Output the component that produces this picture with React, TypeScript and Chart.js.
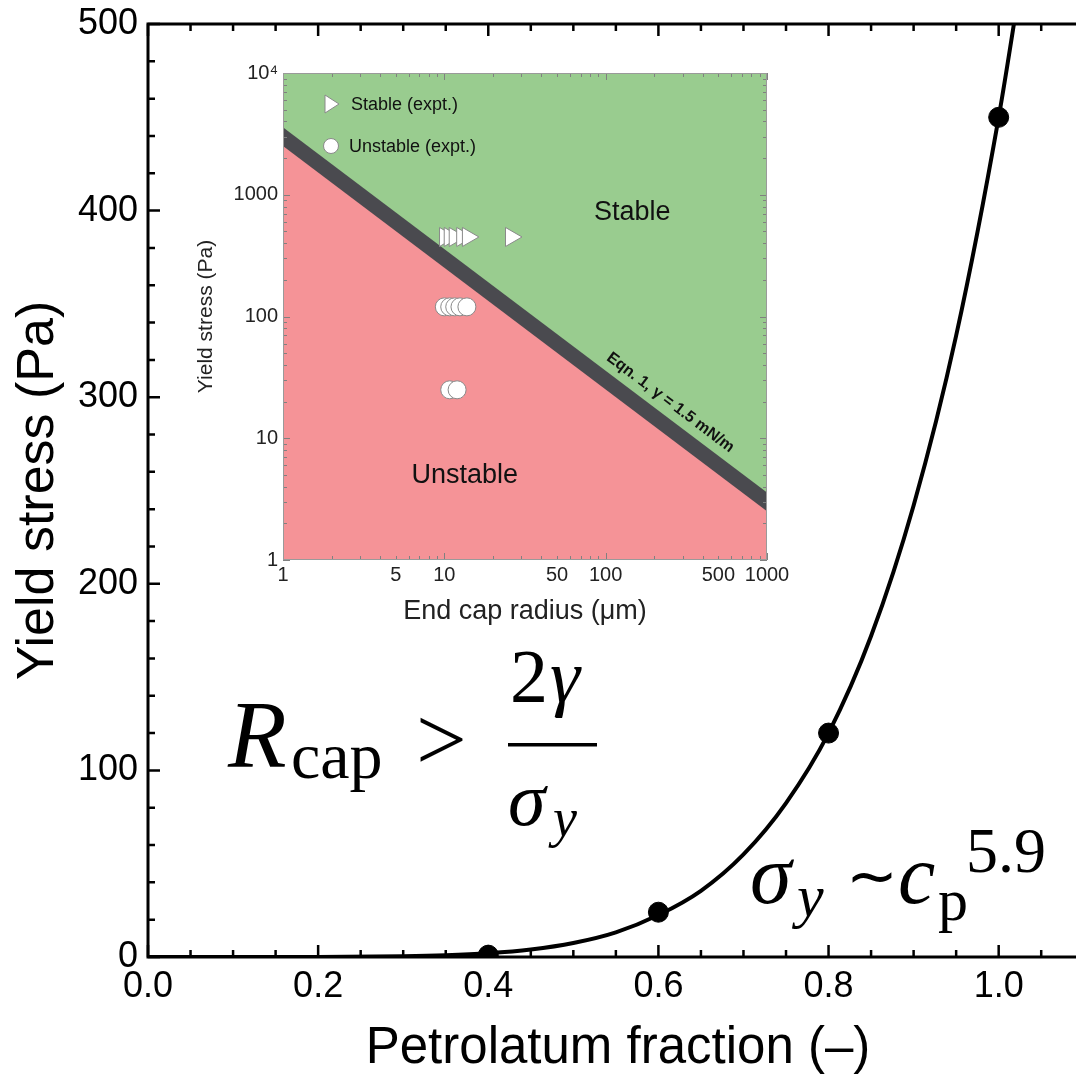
import React, { useEffect, useRef } from 'react';
import { Chart, registerables } from 'chart.js';

Chart.register(...registerables);

const SANS = '"Liberation Sans", Arial, Helvetica, sans-serif';
const SERIF = '"Liberation Serif", "Times New Roman", serif';

// ---------- main chart data ----------
const fractionMeasured = [0.4, 0.6, 0.8, 1.0];
const stressMeasured = [1, 24, 120, 450];
const fitFraction = [0, 0.1, 0.2, 0.3, 0.35, 0.4, 0.45, 0.5, 0.55, 0.6, 0.65, 0.7, 0.75, 0.8, 0.85, 0.9, 0.95, 1.0, 1.03];
const fitStress = [0, 0, 0.03, 0.36, 0.9, 2.0, 4.0, 7.5, 13.2, 22.5, 35.5, 55, 82.5, 120, 172, 242, 333, 450, 535];
const mainXTickValues = [0, 0.2, 0.4, 0.6, 0.8, 1.0];
const mainXTickLabels = ['0.0', '0.2', '0.4', '0.6', '0.8', '1.0'];
const mainYTickValues = [0, 100, 200, 300, 400, 500];
const mainYTickLabels = ['0', '100', '200', '300', '400', '500'];

// ---------- inset data ----------
const stableRadius = [10.1, 10.8, 11.6, 12.9, 14.0, 25.9];
const stableStress = [450, 450, 450, 450, 450, 450];
const unstableRadius = [10.0, 10.8, 11.6, 12.5, 13.8, 10.8, 12.0];
const unstableStress = [120, 120, 120, 120, 120, 25, 25];
const boundaryRadius = [1, 1000];
const boundaryStress = [3000, 3];
const insetXTickValues = [1, 5, 10, 50, 100, 500, 1000];
const insetXTickLabels = ['1', '5', '10', '50', '100', '500', '1000'];
const insetYTickValues = [1, 10, 100, 1000, 10000];
const insetYTickLabels = ['1', '10', '100', '1000', '10⁴'];

const GREEN = '#99cc8f';
const RED = '#f59397';
const BAND = '#4a4a4f';

function label(values: number[], labels: string[]) {
  return (v: any) => {
    const i = values.findIndex((t) => Math.abs(t - Number(v)) < 1e-9);
    return i >= 0 ? labels[i] : '';
  };
}

function drawText(ctx: CanvasRenderingContext2D, s: string, x: number, y: number, size: number, italic: boolean) {
  ctx.font = `${italic ? 'italic ' : ''}${size}px ${SERIF}`;
  ctx.textAlign = 'left';
  ctx.textBaseline = 'alphabetic';
  ctx.fillText(s, x, y);
}

const mainDecor = {
  id: 'mainDecor',
  afterDatasetsDraw(chart: any) {
    const { ctx, chartArea: a, scales } = chart;
    const xs = scales.x;
    const ys = scales.y;
    ctx.save();
    ctx.strokeStyle = '#000';
    ctx.lineWidth = 2.5;
    ctx.beginPath();
    for (let k = 0; k <= 22; k++) {
      const v = k * 0.05;
      const px = xs.getPixelForValue(v);
      const len = k % 4 === 0 ? 12 : 7;
      ctx.moveTo(px, a.bottom);
      ctx.lineTo(px, a.bottom - len);
      ctx.moveTo(px, a.top);
      ctx.lineTo(px, a.top + len);
    }
    for (let k = 0; k <= 25; k++) {
      const v = k * 20;
      const py = ys.getPixelForValue(v);
      const len = k % 5 === 0 ? 12 : 7;
      ctx.moveTo(a.left, py);
      ctx.lineTo(a.left + len, py);
      ctx.moveTo(a.right, py);
      ctx.lineTo(a.right - len, py);
    }
    ctx.stroke();
    ctx.lineWidth = 3;
    ctx.strokeRect(a.left, a.top, a.right - a.left, a.bottom - a.top);
    ctx.restore();
  },
  afterDraw(chart: any) {
    const ctx: CanvasRenderingContext2D = chart.ctx;
    ctx.save();
    ctx.fillStyle = '#000';
    // R_cap > 2γ / σ_y
    drawText(ctx, 'R', 228, 767, 96, true);
    drawText(ctx, 'cap', 291, 778, 66, false);
    drawText(ctx, '>', 416, 770, 90, false);
    drawText(ctx, '2', 510, 702, 76, false);
    drawText(ctx, 'γ', 550, 702, 76, true);
    ctx.fillRect(508, 743, 89, 3.5);
    drawText(ctx, 'σ', 508, 825, 76, true);
    drawText(ctx, 'y', 553, 836, 54, true);
    // σ_y ~ c_p^5.9
    drawText(ctx, 'σ', 750, 903, 84, true);
    drawText(ctx, 'y', 797, 916, 60, true);
    drawText(ctx, '∼', 846, 897, 62, false);
    drawText(ctx, 'c', 898, 903, 84, true);
    drawText(ctx, 'p', 938, 920, 60, false);
    drawText(ctx, '5.9', 966, 872, 64, false);
    ctx.restore();
  },
};

const insetDecor = {
  id: 'insetDecor',
  beforeDatasetsDraw(chart: any) {
    const { ctx, chartArea: a } = chart;
    ctx.save();
    ctx.fillStyle = RED;
    ctx.fillRect(a.left, a.top, a.right - a.left, a.bottom - a.top);
    ctx.restore();
  },
  afterDatasetsDraw(chart: any) {
    const { ctx, chartArea: a, scales } = chart;
    const xs = scales.x;
    const ys = scales.y;
    ctx.save();
    // ticks
    ctx.strokeStyle = '#808080';
    ctx.lineWidth = 1;
    ctx.beginPath();
    for (const dec of [1, 10, 100]) {
      for (let m = 1; m <= 10; m++) {
        const px = Math.round(xs.getPixelForValue(dec * m)) + 0.5;
        const len = m === 1 || m === 10 ? 7 : 4;
        ctx.moveTo(px, a.bottom);
        ctx.lineTo(px, a.bottom - len);
        ctx.moveTo(px, a.top);
        ctx.lineTo(px, a.top + len);
      }
    }
    for (const dec of [1, 10, 100, 1000]) {
      for (let m = 1; m <= 10; m++) {
        const py = Math.round(ys.getPixelForValue(dec * m)) + 0.5;
        const len = m === 1 || m === 10 ? 7 : 4;
        ctx.moveTo(a.left, py);
        ctx.lineTo(a.left + len, py);
        ctx.moveTo(a.right, py);
        ctx.lineTo(a.right - len, py);
      }
    }
    ctx.stroke();
    ctx.strokeStyle = '#9a9a9a';
    ctx.strokeRect(a.left + 0.5, a.top + 0.5, a.right - a.left - 1, a.bottom - a.top - 1);

    // region labels
    ctx.fillStyle = '#111';
    ctx.font = `27px ${SANS}`;
    ctx.textAlign = 'center';
    ctx.textBaseline = 'middle';
    ctx.fillText('Stable', xs.getPixelForValue(146), ys.getPixelForValue(720));
    ctx.fillText('Unstable', xs.getPixelForValue(13.4), ys.getPixelForValue(4.9));

    // equation label along the band
    const x0 = xs.getPixelForValue(boundaryRadius[0]);
    const y0 = ys.getPixelForValue(boundaryStress[0]);
    const x1 = xs.getPixelForValue(boundaryRadius[1]);
    const y1 = ys.getPixelForValue(boundaryStress[1]);
    const ang = Math.atan2(y1 - y0, x1 - x0);
    const ax = xs.getPixelForValue(210);
    const t = (ax - x0) / (x1 - x0);
    const ay = y0 + t * (y1 - y0);
    const off = 21;
    const cx = ax + Math.sin(ang) * off;
    const cy = ay - Math.cos(ang) * off;
    ctx.save();
    ctx.translate(cx, cy);
    ctx.rotate(ang);
    ctx.font = `bold 16px ${SANS}`;
    ctx.fillStyle = '#111';
    ctx.fillText('Eqn. 1, γ = 1.5 mN/m', 0, 0);
    ctx.restore();

    // legend
    const lx = a.left + 48;
    const ly1 = a.top + 31;
    const ly2 = a.top + 73;
    ctx.fillStyle = '#fff';
    ctx.strokeStyle = '#8a8a8a';
    ctx.lineWidth = 1;
    ctx.beginPath();
    ctx.moveTo(lx + 8, ly1);
    ctx.lineTo(lx - 6, ly1 - 9);
    ctx.lineTo(lx - 6, ly1 + 9);
    ctx.closePath();
    ctx.fill();
    ctx.stroke();
    ctx.beginPath();
    ctx.arc(lx, ly2, 7.5, 0, Math.PI * 2);
    ctx.fill();
    ctx.stroke();
    ctx.fillStyle = '#111';
    ctx.font = `18px ${SANS}`;
    ctx.textAlign = 'left';
    ctx.textBaseline = 'middle';
    ctx.fillText('Stable (expt.)', lx + 20, ly1 + 1);
    ctx.fillText('Unstable (expt.)', lx + 18, ly2 + 1);
    ctx.restore();
  },
};

export default function App() {
  const mainRef = useRef<HTMLCanvasElement>(null);
  const insetRef = useRef<HTMLCanvasElement>(null);

  useEffect(() => {
    if (!mainRef.current || !insetRef.current) return;

    const main = new Chart(mainRef.current, {
      type: 'scatter',
      data: {
        datasets: [
          {
            label: 'measured',
            data: fractionMeasured.map((x, i) => ({ x, y: stressMeasured[i] })),
            pointRadius: 10,
            pointBackgroundColor: '#000',
            pointBorderColor: '#000',
            showLine: false,
            order: 0,
          },
          {
            label: 'fit',
            data: fitFraction.map((x, i) => ({ x, y: fitStress[i] })),
            showLine: true,
            pointRadius: 0,
            borderColor: '#000',
            borderWidth: 4,
            cubicInterpolationMode: 'monotone',
            order: 1,
          } as any,
        ],
      },
      options: {
        animation: false,
        responsive: false,
        devicePixelRatio: 1,
        layout: { padding: { top: 24, right: 12, left: 0, bottom: 0 } },
        plugins: { legend: { display: false }, tooltip: { enabled: false } },
        scales: {
          x: {
            type: 'linear',
            min: 0,
            max: 1.105,
            bounds: 'data',
            afterBuildTicks: (s: any) => {
              s.ticks = mainXTickValues.map((v) => ({ value: v }));
            },
            afterFit: (s: any) => {
              s.height = 120;
            },
            grid: { display: false, drawTicks: false },
            border: { display: false },
            ticks: {
              callback: label(mainXTickValues, mainXTickLabels),
              font: { family: SANS, size: 36 },
              color: '#000',
              padding: 8,
              maxRotation: 0,
              autoSkip: false,
            },
            title: {
              display: true,
              text: 'Petrolatum fraction (–)',
              font: { family: SANS, size: 51 },
              color: '#000',
              padding: { top: 0, bottom: -3 },
            },
          },
          y: {
            type: 'linear',
            min: 0,
            max: 500,
            bounds: 'data',
            afterBuildTicks: (s: any) => {
              s.ticks = mainYTickValues.map((v) => ({ value: v }));
            },
            afterFit: (s: any) => {
              s.width = 148;
              s.paddingTop = 0;
            },
            grid: { display: false, drawTicks: false },
            border: { display: false },
            ticks: {
              callback: label(mainYTickValues, mainYTickLabels),
              font: { family: SANS, size: 36 },
              color: '#000',
              padding: 10,
              autoSkip: false,
            },
            title: {
              display: true,
              text: 'Yield stress (Pa)',
              font: { family: SANS, size: 52 },
              color: '#000',
              padding: { top: 7, bottom: 0 },
            },
          },
        },
      } as any,
      plugins: [mainDecor],
    });

    const inset = new Chart(insetRef.current, {
      type: 'scatter',
      data: {
        datasets: [
          {
            label: 'Stable (expt.)',
            data: stableRadius.map((x, i) => ({ x, y: stableStress[i] })),
            pointStyle: 'triangle',
            rotation: 90,
            pointRadius: 11,
            pointBackgroundColor: '#ffffff',
            pointBorderColor: '#8a8a8a',
            pointBorderWidth: 1,
            showLine: false,
            order: 0,
          } as any,
          {
            label: 'Unstable (expt.)',
            data: unstableRadius.map((x, i) => ({ x, y: unstableStress[i] })),
            pointStyle: 'circle',
            pointRadius: 9,
            pointBackgroundColor: '#ffffff',
            pointBorderColor: '#8a8a8a',
            pointBorderWidth: 1,
            showLine: false,
            order: 1,
          },
          {
            label: 'Eqn. 1',
            data: boundaryRadius.map((x, i) => ({ x, y: boundaryStress[i] })),
            showLine: true,
            pointRadius: 0,
            borderColor: BAND,
            borderWidth: 15,
            borderCapStyle: 'square',
            fill: 'end',
            backgroundColor: GREEN,
            clip: 0,
            order: 10,
          } as any,
        ],
      },
      options: {
        animation: false,
        responsive: false,
        devicePixelRatio: 1,
        layout: { padding: { top: 23, right: 33, left: 0, bottom: 0 } },
        plugins: { legend: { display: false }, tooltip: { enabled: false } },
        scales: {
          x: {
            type: 'logarithmic',
            min: 1,
            max: 1000,
            afterBuildTicks: (s: any) => {
              s.ticks = insetXTickValues.map((v) => ({ value: v }));
            },
            afterFit: (s: any) => {
              s.height = 90;
            },
            grid: { display: false, drawTicks: false },
            border: { display: false },
            ticks: {
              callback: label(insetXTickValues, insetXTickLabels),
              font: { family: SANS, size: 20 },
              color: '#222',
              padding: 3,
              maxRotation: 0,
              autoSkip: false,
            },
            title: {
              display: true,
              text: 'End cap radius (μm)',
              font: { family: SANS, size: 27 },
              color: '#222',
              padding: { top: 0, bottom: 22 },
            },
          },
          y: {
            type: 'logarithmic',
            min: 1,
            max: 10000,
            afterBuildTicks: (s: any) => {
              s.ticks = insetYTickValues.map((v) => ({ value: v }));
            },
            afterFit: (s: any) => {
              s.width = 103;
            },
            grid: { display: false, drawTicks: false },
            border: { display: false },
            ticks: {
              callback: label(insetYTickValues, insetYTickLabels),
              font: { family: SANS, size: 20 },
              color: '#222',
              padding: 5,
              autoSkip: false,
            },
            title: {
              display: true,
              text: 'Yield stress (Pa)',
              font: { family: SANS, size: 21 },
              color: '#222',
              padding: { top: 14, bottom: 0 },
            },
          },
        },
      } as any,
      plugins: [insetDecor],
    });

    return () => {
      main.destroy();
      inset.destroy();
    };
  }, []);

  return (
    <div
      style={{
        position: 'fixed',
        left: 0,
        top: 0,
        width: 1076,
        height: 1077,
        overflow: 'hidden',
        background: '#fff',
      }}
    >
      <canvas ref={mainRef} width={1100} height={1077} style={{ position: 'absolute', left: 0, top: 0, width: 1100, height: 1077 }} />
      <canvas ref={insetRef} width={620} height={600} style={{ position: 'absolute', left: 180, top: 50, width: 620, height: 600 }} />
    </div>
  );
}
